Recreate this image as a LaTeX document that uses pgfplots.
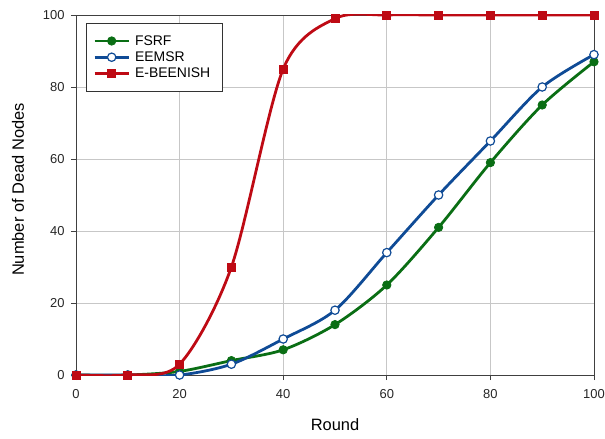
\documentclass[border=0pt]{standalone}
\usepackage{pgfplots}
\pgfplotsset{compat=1.18}
\usepackage{fontspec}
\setmainfont{Liberation Sans}
\definecolor{cgreen}{RGB}{10,110,20}
\definecolor{cblue}{RGB}{15,75,150}
\definecolor{cred}{RGB}{190,10,20}
\begin{document}
\begin{tikzpicture}[x=1bp,y=1bp]
\path[use as bounding box] (-76bp,-64bp) rectangle (529bp,375bp);
\begin{axis}[
  at={(0,0)}, anchor=south west,
  scale only axis,
  width=518bp, height=360bp,
  xmin=0, xmax=100, ymin=0, ymax=100,
  xtick={0,20,...,100}, ytick={0,20,...,100},
  xtick pos=left, ytick pos=left,
  grid=major,
  grid style={black!22, line width=0.9pt},
  axis line style={black!75, line width=0.9pt},
  tick style={black!75, line width=0.9pt},
  tick align=outside,
  major tick length=5bp,
  /pgf/number format/assume math mode=true,
  ticklabel style={font=\fontsize{13}{15}\selectfont, text=black!85},
  xticklabel style={yshift=-6bp},
  yticklabel style={xshift=-3bp},
  xlabel={Round}, ylabel={Number of Dead Nodes},
  xlabel style={at={(axis description cs:0.5,-0.139)}, anchor=center, font=\fontsize{16.5}{18}\selectfont},
  ylabel style={at={(axis description cs:-0.112,0.515)}, anchor=center, rotate=0, font=\fontsize{16.5}{18}\selectfont},
  legend style={at={(rel axis cs:0.019,0.978)}, anchor=north west,
    font=\fontsize{14}{16}\selectfont, draw=black!80, line width=0.9pt,
    inner xsep=7bp, inner ysep=12bp, row sep=5bp, cells={anchor=west},
    nodes={inner xsep=5bp, inner ysep=0bp}},
  legend image code/.code={\draw[mark repeat=2,mark phase=2,#1] plot coordinates {(0bp,0bp) (17bp,0bp) (34bp,0bp)};},
  clip mode=individual,
]
\addplot[cgreen, line width=2.8pt, smooth, mark=*, mark size=4.2pt, mark options={fill=cgreen, line width=0.8pt}] coordinates {
(0,0)(10,0)(20,1)(30,4)(40,7)(50,14)(60,25)(70,41)(80,59)(90,75)(100,87)};
\addlegendentry{FSRF}
\addplot[cblue, line width=2.8pt, smooth, mark=*, mark size=4.2pt, mark options={fill=white, line width=1.2pt}] coordinates {
(0,0)(10,0)(20,0)(30,3)(40,10)(50,18)(60,34)(70,50)(80,65)(90,80)(100,89)};
\addlegendentry{EEMSR}
\addplot[cred, line width=2.8pt, smooth, mark=square*, mark size=4pt, mark options={fill=cred, line width=0.8pt}] coordinates {
(0,0)(10,0)(20,3)(30,30)(40,85)(50,99)(60,100)(70,100)(80,100)(90,100)(100,100)};
\addlegendentry{E-BEENISH}
\end{axis}
\end{tikzpicture}
\end{document}
